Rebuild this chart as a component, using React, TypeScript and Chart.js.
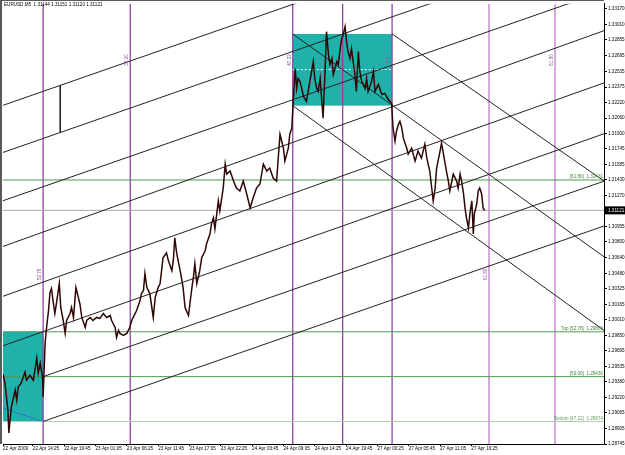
import React, { useEffect, useRef } from 'react';
import { Chart, registerables } from 'chart.js';
Chart.register(...registerables);

// ---- data (x = M5 bar index from the left edge, y = EURUSD price) ----
const closeBars = [0,4,10,12,17,25,28,31,37,45,48,55,62,69,72,76,81,82,86,89,93,96,99,103,106,110,115,118,123,127,130,137,140,144,149,154,157,161,168,171,178,184,191,198,205,212,219,222,229,232,236,239,246,253,256,259,263,266,273,280,283,287,290,294,300,307,311,317,321,327,334,338,345,348,351,355,362,368,372,379,382,386,389,392,396,402,406,413,416,423,426,430,433,440,443,450,454,457,464,471,477,484,491,498,505,511,518,525,532,539,545,552,559,566,573,576,583,586,590,593,597,600,603,607,614,620,627,634,637,641,644,648,654,658,661,665,668,672,675,682,685,689,692,695,699,702,705,709,712,719,722,726,729,733,740,743,746,753,757,760,767,774,780,787,794,797,801,804,808,811,815,818,825,828,835,842,848,855,862,866,872,876,879,883,886,893,896,900,906,910,913,920,927,930,934,937,941,944,947,951,954,958,961,963,968,971,974,978,981,984];
const closePrices = [1.29454,1.29363,1.29090,1.28857,1.29120,1.29293,1.29191,1.29323,1.29363,1.29475,1.29394,1.29444,1.29394,1.29617,1.29465,1.29566,1.29414,1.29222,1.29768,1.29930,1.30103,1.30285,1.30325,1.30174,1.30072,1.30204,1.30376,1.30133,1.30001,1.29870,1.30001,1.30072,1.30133,1.30032,1.30336,1.30234,1.30174,1.30032,1.29930,1.30001,1.30032,1.30001,1.30032,1.30022,1.30072,1.30032,1.30052,1.30001,1.29930,1.29829,1.29900,1.29870,1.29850,1.29870,1.29900,1.29930,1.30001,1.30032,1.30103,1.30204,1.30275,1.30305,1.30477,1.30336,1.30275,1.30032,1.30234,1.30336,1.30376,1.30639,1.30690,1.30609,1.30508,1.30609,1.30842,1.30680,1.30508,1.30336,1.30133,1.30052,1.30174,1.30336,1.30437,1.30579,1.30376,1.30508,1.30639,1.30710,1.30781,1.30882,1.30984,1.31044,1.30933,1.31217,1.31115,1.31348,1.31591,1.31490,1.31520,1.31419,1.31348,1.31318,1.31419,1.31288,1.31146,1.31247,1.31348,1.31389,1.31591,1.31520,1.31551,1.31450,1.31419,1.31895,1.31753,1.31622,1.31753,1.31895,1.31956,1.32229,1.32564,1.32361,1.32462,1.32432,1.32280,1.32229,1.32432,1.32634,1.32462,1.32361,1.32331,1.32462,1.32057,1.32533,1.32938,1.32705,1.32604,1.32665,1.32503,1.32634,1.32604,1.32766,1.32867,1.32908,1.32989,1.32837,1.32736,1.32665,1.32766,1.32503,1.32331,1.32736,1.32533,1.32432,1.32361,1.32462,1.32331,1.32432,1.32533,1.32331,1.32402,1.32300,1.32310,1.32250,1.32209,1.31956,1.31824,1.31926,1.31996,1.32027,1.31956,1.31855,1.31753,1.31693,1.31753,1.31622,1.31723,1.31652,1.31794,1.31652,1.31520,1.31348,1.31217,1.31348,1.31551,1.31723,1.31804,1.31693,1.31520,1.31419,1.31318,1.31490,1.31419,1.31348,1.31490,1.31419,1.31288,1.31146,1.31044,1.30943,1.31085,1.31217,1.30882,1.31085,1.31186,1.31318,1.31348,1.31288,1.31146,1.31121];

const xTickBars = [0,61,125,189,253,317,381,445,509,573,637,701,765,829,893,957];
const xTickLabels = ['22 Apr 2009','22 Apr 14:25','22 Apr 19:45','23 Apr 01:05','23 Apr 06:25','23 Apr 11:45','23 Apr 17:05','23 Apr 22:25','24 Apr 03:45','24 Apr 09:05','24 Apr 14:25','24 Apr 19:45','27 Apr 00:25','27 Apr 05:45','27 Apr 11:05','27 Apr 16:25'];
const yTickValues = [1.33170,1.33010,1.32855,1.32695,1.32535,1.32375,1.32220,1.32060,1.31900,1.31745,1.31585,1.31430,1.31270,1.30955,1.30800,1.30640,1.30480,1.30325,1.30165,1.30010,1.29850,1.29695,1.29535,1.29380,1.29220,1.29065,1.28905,1.28745];
const yMin = 1.28745;
const yMax = 1.33222;
const xMax = 1228;

// channel lines [bar1, price1, bar2, price2]
const risingLines = [
  [0,1.32189,1228,1.34319],
  [0,1.31710,1228,1.33840],
  [0,1.31219,1228,1.33349],
  [0,1.30754,1228,1.32948],
  [0,1.30247,1228,1.32417],
  [0,1.29744,1228,1.31900],
  [82,1.29430,1228,1.31418],
  [82,1.28974,1228,1.30962],
];
const handleLine = [117,1.32392,117,1.31913];
const fallingLines = [
  [592,1.32915,1228,1.30649],
  [795,1.32915,1228,1.31420],
  [592,1.32186,1228,1.29900],
];
// boxes [bar1, bar2, priceTop, priceBottom]
const boxes = [
  [0,82,1.29886,1.28974],
  [592,795,1.32915,1.32186],
];
const boxMidLine = [592,1.32553,795,1.32553];
const boxDiagonal = [0,1.29110,82,1.28974];

const timeLinesDark = [82,260,592,694,795];
const timeLinesLight = [993,1128];
const timeLabelsText = ['52.78','38.20','47.22','','1.0','61.80','61.80'];
const timeLabelsBar = [82,260,592,694,795,993,1128];
const timeLabelsPrice = [1.30470,1.32650,1.32650,1.32650,1.32650,1.30470,1.32650];

const levelPrices = [1.31430,1.29886,1.29430,1.28974];
const levelTexts = ['[61.80]  1.31431','Top [52.78]  1.29886','[50.00]  1.29430','Bottom [47.22]  1.28974'];
const levelColors = ['#4f9a4f','#4f9a4f','#4f9a4f','#a9cfa9'];

const lastPrice = 1.31121;
const headerText = 'EURUSD,M5  1.31144 1.31151 1.31120 1.31121';

const FONT = 'Liberation Sans';
const FS = 4.6;

const seg = (l: number[], color: string, width: number, dash: number[] = []) => ({
  data: [{ x: l[0], y: l[1] }, { x: l[2], y: l[3] }],
  borderColor: color,
  borderWidth: width,
  borderDash: dash,
  showLine: true,
  pointRadius: 0,
  fill: false,
  tension: 0,
});

export default function App() {
  const ref = useRef<HTMLCanvasElement | null>(null);
  useEffect(() => {
    if (!ref.current) return;
    const datasets: any[] = [];
    datasets.push({
      data: closeBars.map((b, i) => ({ x: b, y: closePrices[i] })),
      borderColor: '#2e0606',
      borderWidth: 1.5,
      showLine: true,
      pointRadius: 0,
      tension: 0,
    });
    risingLines.forEach(l => datasets.push(seg(l, '#222', 1)));
    datasets.push(seg(handleLine, '#222', 1));
    fallingLines.forEach(l => datasets.push(seg(l, '#222', 1)));
    datasets.push(seg(boxMidLine, '#e8ffff', 1, [2, 2]));
    datasets.push(seg(boxDiagonal, '#3a3ad8', 1, [1, 1]));
    levelPrices.forEach((p, i) => datasets.push(seg([0, p, xMax, p], levelColors[i], 1)));
    datasets.push(seg([0, lastPrice, xMax, lastPrice], '#a8a8a8', 1));
    timeLinesDark.forEach(b => datasets.push(seg([b, yMin, b, yMax], '#8f45a0', 1.3)));
    timeLinesLight.forEach(b => datasets.push(seg([b, yMin, b, yMax], '#d4aad8', 2)));

    const overlay = {
      id: 'overlay',
      beforeDraw(chart: any) {
        const { ctx } = chart;
        ctx.save();
        ctx.fillStyle = '#fff';
        ctx.fillRect(0, 0, chart.width, chart.height);
        ctx.restore();
      },
      beforeDatasetsDraw(chart: any) {
        const { ctx, scales: { x, y } } = chart;
        ctx.save();
        ctx.fillStyle = '#20b2aa';
        boxes.forEach(b => {
          const x1 = x.getPixelForValue(b[0]);
          const x2 = x.getPixelForValue(b[1]);
          const y1 = y.getPixelForValue(b[2]);
          const y2 = y.getPixelForValue(b[3]);
          ctx.fillRect(x1, y1, x2 - x1, y2 - y1);
        });
        ctx.restore();
      },
      afterDatasetsDraw(chart: any) {
        const { ctx, scales: { x, y }, chartArea } = chart;
        ctx.save();
        // frame
        ctx.fillStyle = '#5a5a5a';
        ctx.fillRect(0, 0, 2, chartArea.bottom);
        ctx.fillRect(0, 0, chartArea.right, 1);
        // header
        ctx.fillStyle = '#000';
        ctx.font = `${FS}px "${FONT}"`;
        ctx.textBaseline = 'middle';
        ctx.textAlign = 'left';
        ctx.fillText(headerText, 4, 5);
        // level labels
        ctx.textAlign = 'right';
        ctx.textBaseline = 'bottom';
        levelPrices.forEach((p, i) => {
          ctx.fillStyle = i === 3 ? '#6a9a6a' : '#3f803f';
          ctx.fillText(levelTexts[i], chartArea.right - 1, y.getPixelForValue(p) - 0.5);
        });
        // time labels (vertical)
        ctx.fillStyle = '#8f45a0';
        ctx.textAlign = 'center';
        ctx.textBaseline = 'bottom';
        timeLabelsBar.forEach((b, i) => {
          if (!timeLabelsText[i]) return;
          const px = x.getPixelForValue(b) - 1;
          const py = y.getPixelForValue(timeLabelsPrice[i]);
          ctx.save();
          ctx.translate(px, py);
          ctx.rotate(-Math.PI / 2);
          ctx.fillText(timeLabelsText[i], 0, 0);
          ctx.restore();
        });
        // last price tag
        const ly = y.getPixelForValue(lastPrice);
        ctx.fillStyle = '#000';
        ctx.fillRect(chartArea.right + 1, ly - 4, 20, 8);
        ctx.fillStyle = '#fff';
        ctx.textAlign = 'left';
        ctx.textBaseline = 'middle';
        ctx.fillText(lastPrice.toFixed(5), chartArea.right + 4, ly);
        ctx.restore();
      },
    };

    const chart = new Chart(ref.current, {
      type: 'scatter',
      data: { datasets },
      options: {
        animation: false,
        responsive: false,
        devicePixelRatio: 1,
        layout: { padding: { left: 3, top: 2, right: 0, bottom: 0 } },
        plugins: { legend: { display: false }, tooltip: { enabled: false } },
        scales: {
          x: {
            type: 'linear',
            position: 'bottom',
            min: 0,
            max: xMax,
            afterBuildTicks: (s: any) => { s.ticks = xTickBars.map(v => ({ value: v })); },
            afterFit: (s: any) => { s.height = 11; },
            grid: { display: true, drawOnChartArea: false, drawTicks: true, tickLength: 2, color: '#000' },
            border: { display: true, color: '#000' },
            ticks: {
              autoSkip: false,
              maxRotation: 0,
              minRotation: 0,
              align: 'start',
              padding: 0,
              color: '#000',
              font: { family: FONT, size: FS },
              callback: (_v: any, i: number) => xTickLabels[i],
            },
          },
          y: {
            type: 'linear',
            position: 'right',
            min: yMin,
            max: yMax,
            afterBuildTicks: (s: any) => { s.ticks = yTickValues.map(v => ({ value: v })); },
            afterFit: (s: any) => { s.width = 21; },
            grid: { display: true, drawOnChartArea: false, drawTicks: true, tickLength: 3, color: '#000' },
            border: { display: true, color: '#000' },
            ticks: {
              autoSkip: false,
              padding: 1,
              color: '#000',
              font: { family: FONT, size: FS },
              callback: (v: any) => Number(v).toFixed(5),
            },
          },
        },
      } as any,
      plugins: [overlay],
    });
    return () => chart.destroy();
  }, []);
  return (
    <div style={{ position: 'fixed', left: 0, top: 0, width: 625, height: 455, background: '#fff' }}>
      <canvas ref={ref} width={625} height={455} style={{ width: 625, height: 455 }} />
    </div>
  );
}
